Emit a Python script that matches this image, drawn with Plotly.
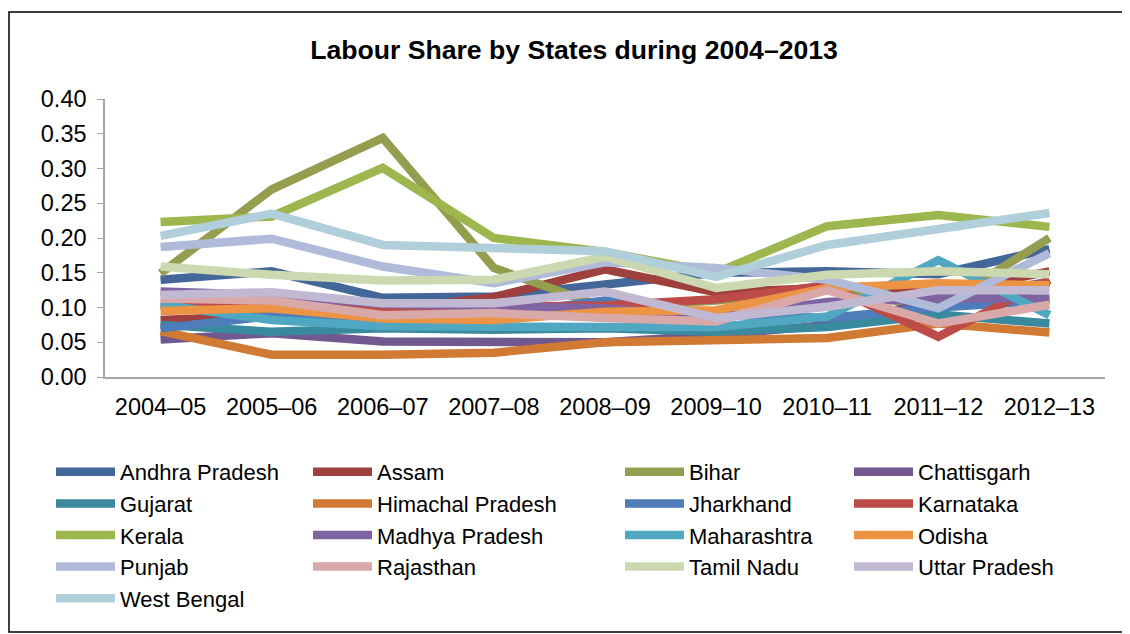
import plotly.graph_objects as go

years = ["2004–05", "2005–06", "2006–07", "2007–08", "2008–09",
         "2009–10", "2010–11", "2011–12", "2012–13"]

andhra_pradesh = [0.140, 0.152, 0.114, 0.116, 0.133, 0.150, 0.152, 0.148, 0.184]
assam = [0.082, 0.090, 0.095, 0.115, 0.155, 0.122, 0.128, 0.120, 0.152]
bihar = [0.149, 0.270, 0.344, 0.157, 0.100, 0.110, 0.125, 0.100, 0.200]
chattisgarh = [0.054, 0.063, 0.051, 0.052, 0.050, 0.060, 0.075, 0.110, 0.137]
gujarat = [0.075, 0.065, 0.070, 0.068, 0.070, 0.065, 0.072, 0.090, 0.077]
himachal_pradesh = [0.066, 0.032, 0.032, 0.035, 0.050, 0.053, 0.056, 0.077, 0.064]
jharkhand = [0.070, 0.088, 0.080, 0.090, 0.110, 0.090, 0.085, 0.100, 0.110]
karnataka = [0.106, 0.100, 0.097, 0.101, 0.103, 0.112, 0.132, 0.058, 0.140]
kerala = [0.223, 0.231, 0.301, 0.200, 0.180, 0.150, 0.217, 0.233, 0.216]
madhya_pradesh = [0.123, 0.118, 0.105, 0.102, 0.099, 0.085, 0.108, 0.113, 0.113]
maharashtra = [0.104, 0.082, 0.073, 0.071, 0.072, 0.072, 0.087, 0.168, 0.089]
odisha = [0.095, 0.099, 0.084, 0.082, 0.094, 0.096, 0.128, 0.135, 0.132]
punjab = [0.187, 0.199, 0.159, 0.135, 0.165, 0.157, 0.140, 0.099, 0.178]
rajasthan = [0.113, 0.110, 0.089, 0.092, 0.085, 0.080, 0.125, 0.077, 0.104]
tamil_nadu = [0.159, 0.147, 0.139, 0.140, 0.173, 0.128, 0.147, 0.152, 0.148]
uttar_pradesh = [0.118, 0.122, 0.106, 0.106, 0.123, 0.085, 0.101, 0.125, 0.125]
west_bengal = [0.203, 0.235, 0.190, 0.185, 0.181, 0.144, 0.190, 0.213, 0.236]

states = ["Andhra Pradesh", "Assam", "Bihar", "Chattisgarh", "Gujarat",
          "Himachal Pradesh", "Jharkhand", "Karnataka", "Kerala",
          "Madhya Pradesh", "Maharashtra", "Odisha", "Punjab", "Rajasthan",
          "Tamil Nadu", "Uttar Pradesh", "West Bengal"]
series = [andhra_pradesh, assam, bihar, chattisgarh, gujarat,
          himachal_pradesh, jharkhand, karnataka, kerala, madhya_pradesh,
          maharashtra, odisha, punjab, rajasthan, tamil_nadu,
          uttar_pradesh, west_bengal]
colors = ["#44679A", "#9E413E", "#959D4F", "#71588F", "#3A8A9D",
          "#D07A34", "#4F7DBA", "#BD4B47", "#9EB64E", "#8064A2",
          "#4FA7C2", "#EC9344", "#AFBBD8", "#D8A9A8", "#CCD8AF",
          "#C1B8D1", "#B1CFDB"]

legend_ids = ["legend", "legend2", "legend3", "legend4"]

FONT = "Liberation Sans, Arial, sans-serif"

fig = go.Figure()
for i, (name, vals, col) in enumerate(zip(states, series, colors)):
    fig.add_trace(go.Scatter(
        x=years, y=vals, name=name, mode="lines",
        line=dict(color=col, width=8.5),
        legend=legend_ids[i % 4], legendgroup=name,
        hoverinfo="x+y+name",
    ))

# page body has an 8px margin, so figure pixels = screen pixels - 8
OFF = 8
W, H = 1130 - OFF, 634 - OFF
L, R, T, B = 105 - OFF, 25, 99 - OFF, H - (377 - OFF)
pw, ph = W - L - R, H - T - B


def fx(px):
    """figure pixel x -> paper"""
    return (px - L) / pw


def fy(py):
    """figure pixel y -> paper"""
    return (H - B - py) / ph


col_x = [43, 300, 612, 841]
leg_common = dict(
    orientation="v", yanchor="top", xanchor="left",
    font=dict(family=FONT, size=22, color="#000000"),
    bgcolor="rgba(0,0,0,0)", traceorder="grouped", tracegroupgap=0,
    itemwidth=59,
)
layout_legends = {}
for lid, cx in zip(legend_ids, col_x):
    layout_legends[lid] = dict(x=fx(cx), y=fy(443), **leg_common)

fig.update_layout(
    width=W, height=H,
    margin=dict(l=L, r=R, t=T, b=B, autoexpand=False),
    paper_bgcolor="#FFFFFF", plot_bgcolor="#FFFFFF",
    title=dict(text="<b>Labour Share by States during 2004–2013</b>",
               x=fx(574 - OFF), xref="paper", xanchor="center",
               y=1 - (50 - OFF) / H, yanchor="middle",
               font=dict(family=FONT, size=26.6, color="#000000")),
    xaxis=dict(type="category", range=[-0.5, 8.5], showgrid=False,
               showline=True, linecolor="#A6A6A6", linewidth=1.5,
               ticks="", ticklabelstandoff=8,
               tickfont=dict(family=FONT, size=23.5, color="#000000"),
               zeroline=False, fixedrange=True),
    yaxis=dict(range=[0, 0.40], dtick=0.05, tick0=0, tickformat=".2f",
               showgrid=False, showline=True, linecolor="#A6A6A6",
               linewidth=1.5, ticks="outside", ticklen=6,
               tickcolor="#A6A6A6", zeroline=False, ticklabelstandoff=6,
               tickfont=dict(family=FONT, size=23.5, color="#000000"),
               fixedrange=True),
    showlegend=True,
    shapes=[dict(type="rect", xref="paper", yref="paper",
                 x0=fx(1), x1=fx(1126 - OFF), y0=fy(H - 2), y1=fy(12 - OFF),
                 line=dict(color="#000000", width=1.5),
                 fillcolor="rgba(0,0,0,0)", layer="below")],
    **layout_legends,
)

fig.write_html("out.html")
